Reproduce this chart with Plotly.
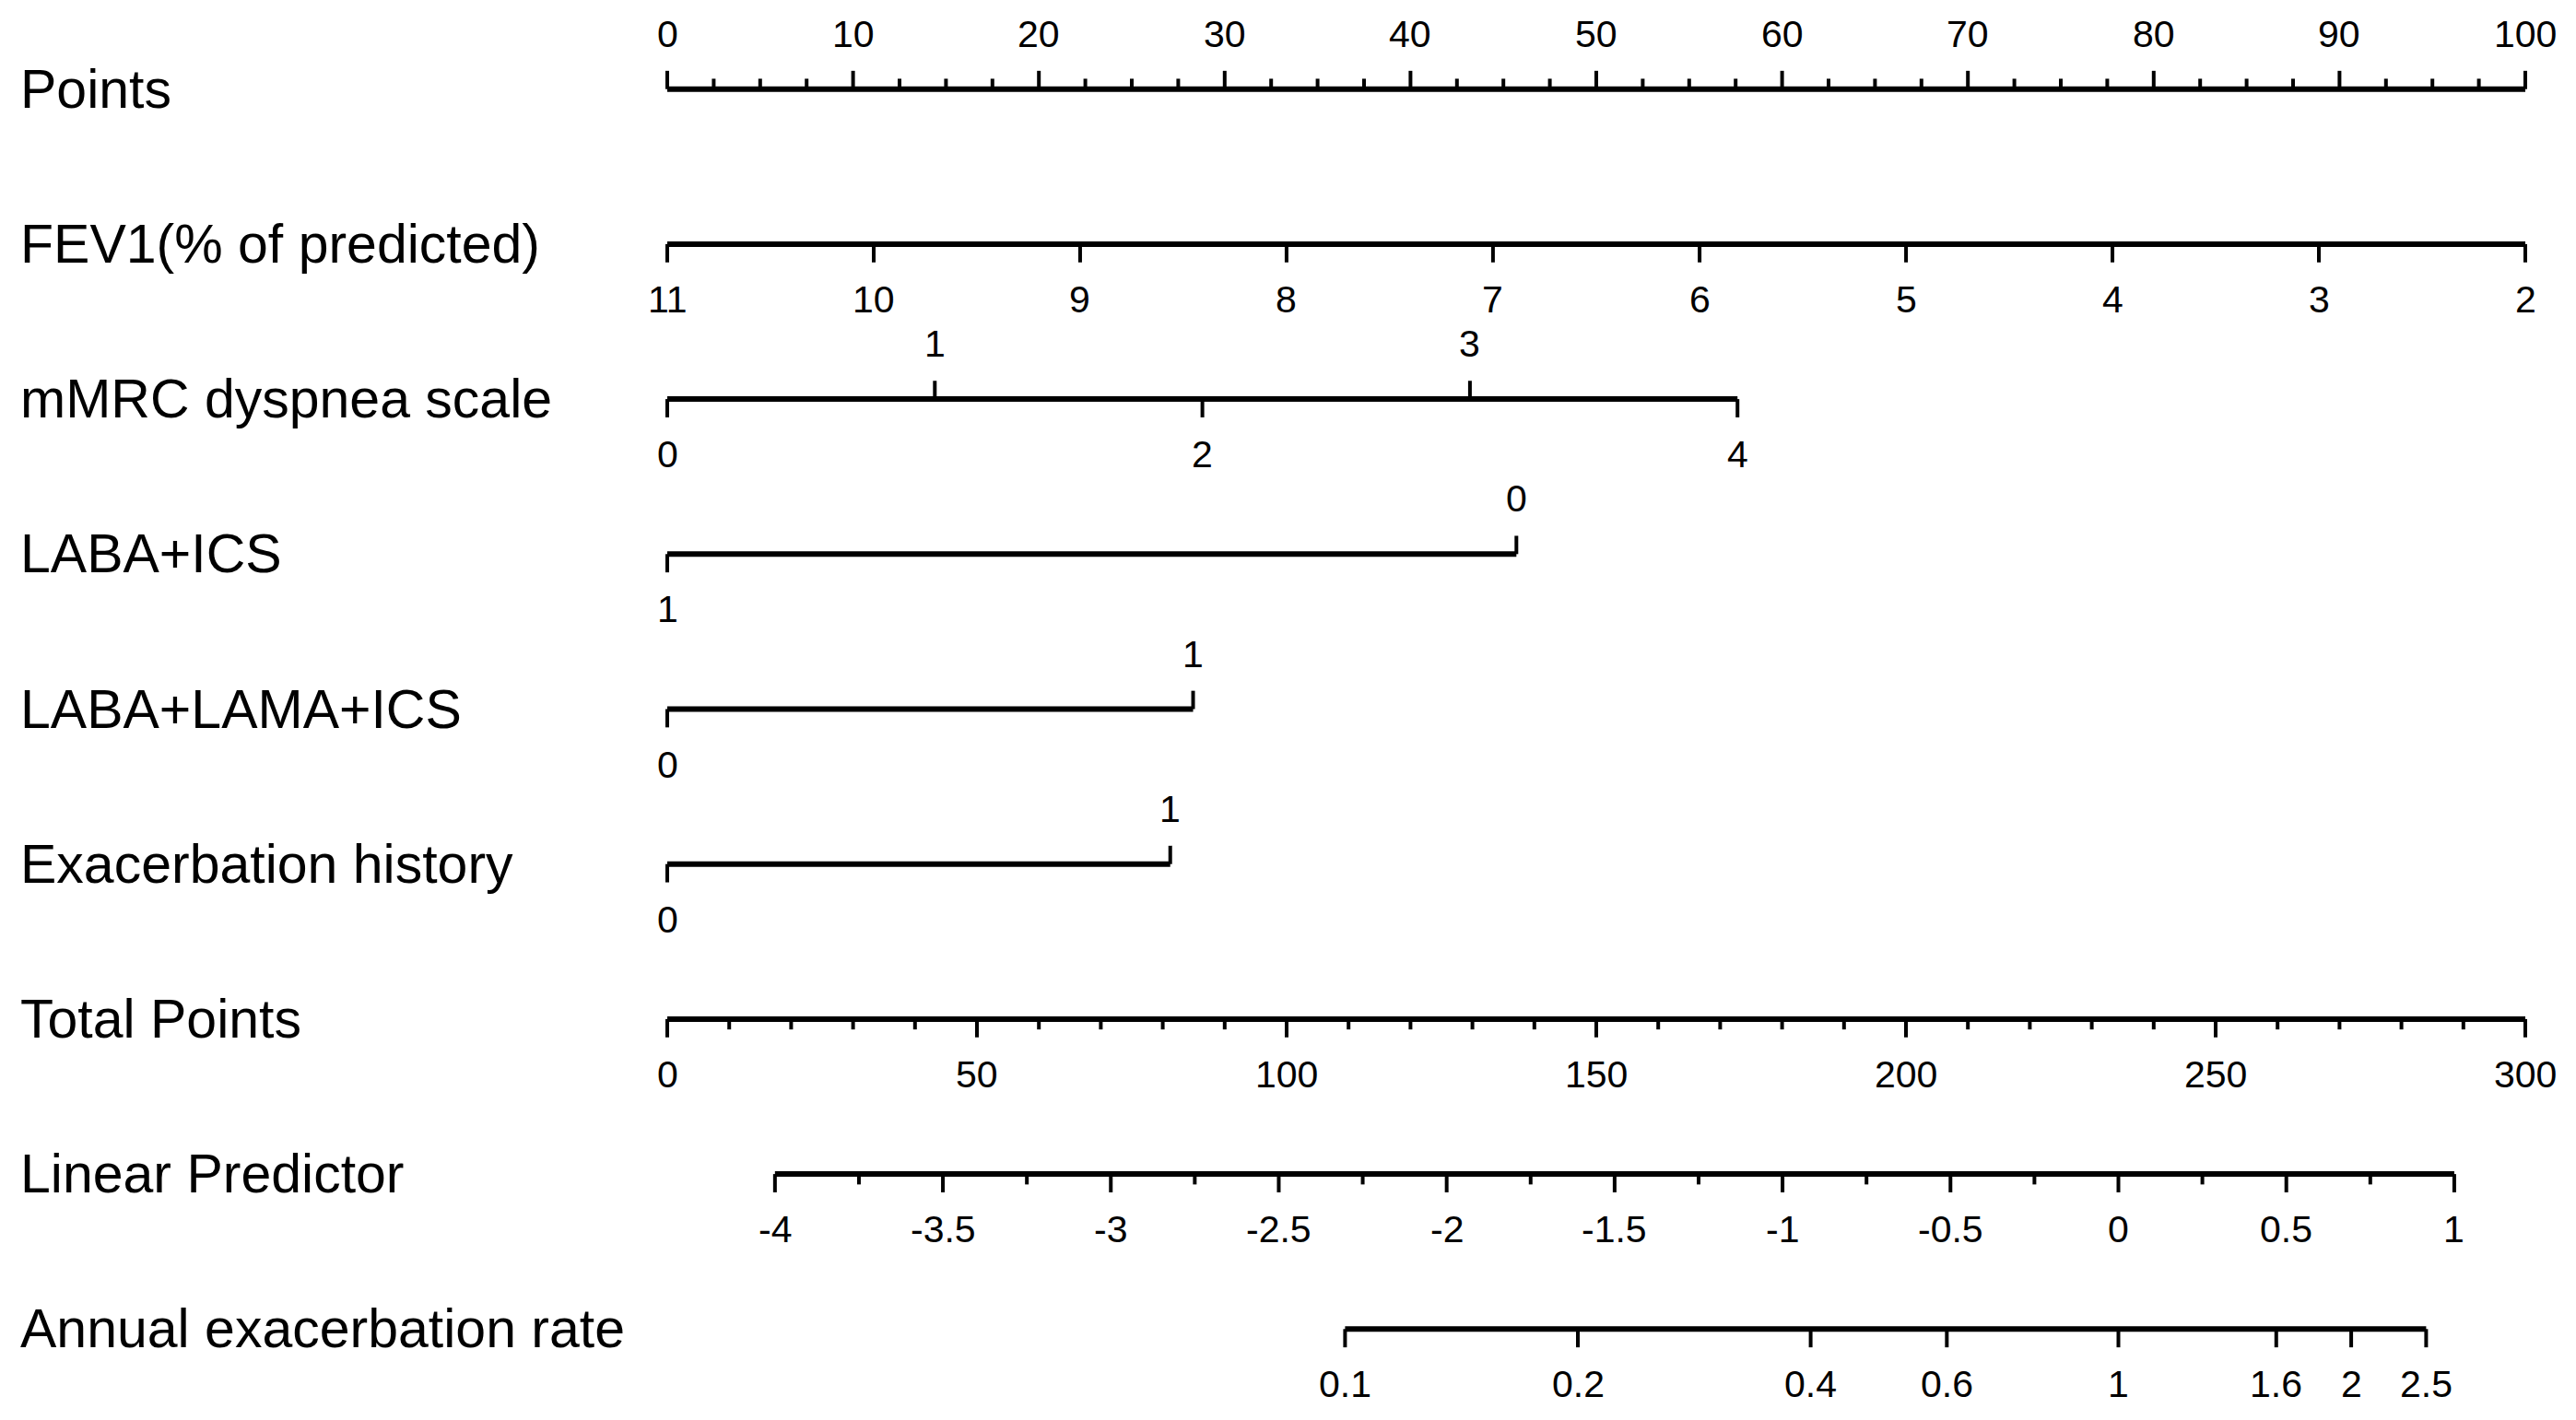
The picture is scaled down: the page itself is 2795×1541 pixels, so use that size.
import plotly.graph_objects as go
import math

# ---------------- data ----------------
row_labels = ["Points", "FEV1(% of predicted)", "mMRC dyspnea scale", "LABA+ICS",
              "LABA+LAMA+ICS", "Exacerbation history", "Total Points",
              "Linear Predictor", "Annual exacerbation rate"]

# Points scale
points_major = [0, 10, 20, 30, 40, 50, 60, 70, 80, 90, 100]
points_minor_step = 2.5

# FEV1 levels and their points
fev1_levels = [11, 10, 9, 8, 7, 6, 5, 4, 3, 2]
fev1_points = [0, 11.11, 22.22, 33.33, 44.44, 55.56, 66.67, 77.78, 88.89, 100]

# mMRC levels and points (label side: -1 below, +1 above)
mmrc_levels = [0, 1, 2, 3, 4]
mmrc_points = [0, 14.4, 28.8, 43.2, 57.6]
mmrc_side = [-1, 1, -1, 1, -1]

laba_ics_levels = [1, 0]
laba_ics_points = [0, 45.7]
laba_ics_side = [-1, 1]

triple_levels = [0, 1]
triple_points = [0, 28.3]
triple_side = [-1, 1]

exac_levels = [0, 1]
exac_points = [0, 27.07]
exac_side = [-1, 1]

# Total points scale
total_major = [0, 50, 100, 150, 200, 250, 300]
total_minor_step = 10
total_max = 300

# Linear predictor scale (in points units: x = lp_origin + lp_slope * lp)
lp_major = [-4, -3.5, -3, -2.5, -2, -1.5, -1, -0.5, 0, 0.5, 1]
lp_minor_step = 0.25
lp_origin = 78.1
lp_slope = 18.076

# Annual exacerbation rate = exp(LP)
rate_ticks = [0.1, 0.2, 0.4, 0.6, 1, 1.6, 2, 2.5]
rate_labels = ["0.1", "0.2", "0.4", "0.6", "1", "1.6", "2", "2.5"]

# ---------------- styling ----------------
FONT = "Liberation Sans, Arial, Helvetica, sans-serif"
ROW_FS = 59
TICK_FS = 41
MAJ = 0.118   # major tick length (row units)
MIN = 0.067   # minor tick length
OFF = 60      # label offset in px
AXW = 6
TKW = 4

axis_x, axis_y = [], []
tick_x, tick_y = [], []
annotations = []


def add_axis(row, x0, x1):
    axis_x.extend([x0, x1, None])
    axis_y.extend([row, row, None])


def add_tick(row, x, length, side):
    tick_x.extend([x, x, None])
    tick_y.extend([row, row - side * length, None])


def add_label(row, x, text, side):
    annotations.append(dict(x=x, y=row, xref="x", yref="y", text=text,
                            showarrow=False, xanchor="center", yanchor="middle",
                            yshift=side * OFF,
                            font=dict(family=FONT, size=TICK_FS, color="black")))


def frange(a, b, step):
    n = int(round((b - a) / step))
    return [a + i * step for i in range(n + 1)]

# Row 0: Points
r = 0
add_axis(r, 0, 100)
for v in frange(0, 100, points_minor_step):
    if any(abs(v - m) < 1e-9 for m in points_major):
        add_tick(r, v, MAJ, 1)
    else:
        add_tick(r, v, MIN, 1)
for v in points_major:
    add_label(r, v, str(v), 1)

# Row 1: FEV1
r = 1
add_axis(r, min(fev1_points), max(fev1_points))
for lv, p in zip(fev1_levels, fev1_points):
    add_tick(r, p, MAJ, -1)
    add_label(r, p, str(lv), -1)

# Categorical rows
for r, levels, pts, sides in [(2, mmrc_levels, mmrc_points, mmrc_side),
                              (3, laba_ics_levels, laba_ics_points, laba_ics_side),
                              (4, triple_levels, triple_points, triple_side),
                              (5, exac_levels, exac_points, exac_side)]:
    add_axis(r, min(pts), max(pts))
    for lv, p, s in zip(levels, pts, sides):
        add_tick(r, p, MAJ, s)
        add_label(r, p, str(lv), s)

# Row 6: Total points
r = 6
scale_tp = 100.0 / total_max
add_axis(r, 0, 100)
for v in frange(0, total_max, total_minor_step):
    if v in total_major:
        add_tick(r, v * scale_tp, MAJ, -1)
    else:
        add_tick(r, v * scale_tp, MIN, -1)
for v in total_major:
    add_label(r, v * scale_tp, str(v), -1)

# Row 7: Linear predictor
r = 7
lp_to_x = lambda lp: lp_origin + lp_slope * lp
add_axis(r, lp_to_x(min(lp_major)), lp_to_x(max(lp_major)))
for v in frange(min(lp_major), max(lp_major), lp_minor_step):
    if any(abs(v - m) < 1e-9 for m in lp_major):
        add_tick(r, lp_to_x(v), MAJ, -1)
    else:
        add_tick(r, lp_to_x(v), MIN, -1)
for v in lp_major:
    add_label(r, lp_to_x(v), "%g" % v, -1)

# Row 8: Annual exacerbation rate
r = 8
rate_to_x = lambda q: lp_to_x(math.log(q))
add_axis(r, rate_to_x(min(rate_ticks)), rate_to_x(max(rate_ticks)))
for q, t in zip(rate_ticks, rate_labels):
    add_tick(r, rate_to_x(q), MAJ, -1)
    add_label(r, rate_to_x(q), t, -1)

# page geometry (browser body has an 8px margin)
PAGE_W, PAGE_H = 2795, 1541
BODY_M = 8
W, H = PAGE_W - 2 * BODY_M, PAGE_H - 2 * BODY_M
PX_PER_PT = 20.16
X0_PX = 724 - BODY_M
ROW0_PX = 96.7 - BODY_M
ROW_PX = 168.2

# Row labels
for i, lab in enumerate(row_labels):
    annotations.append(dict(x=(20 - BODY_M) / W, y=i, xref="paper", yref="y", text=lab,
                            showarrow=False, xanchor="left", yanchor="middle",
                            font=dict(family=FONT, size=ROW_FS, color="black")))

fig = go.Figure()
fig.add_trace(go.Scatter(x=axis_x, y=axis_y, mode="lines",
                         line=dict(color="black", width=AXW), hoverinfo="skip",
                         showlegend=False))
fig.add_trace(go.Scatter(x=tick_x, y=tick_y, mode="lines",
                         line=dict(color="black", width=TKW), hoverinfo="skip",
                         showlegend=False))

fig.update_layout(
    width=W, height=H,
    margin=dict(l=0, r=0, t=0, b=0),
    paper_bgcolor="white", plot_bgcolor="white",
    xaxis=dict(range=[-X0_PX / PX_PER_PT, (W - X0_PX) / PX_PER_PT],
               visible=False, fixedrange=True),
    yaxis=dict(range=[(H - ROW0_PX) / ROW_PX, -ROW0_PX / ROW_PX],
               visible=False, fixedrange=True),
    annotations=annotations,
    showlegend=False,
)

fig.write_html("out.html")
